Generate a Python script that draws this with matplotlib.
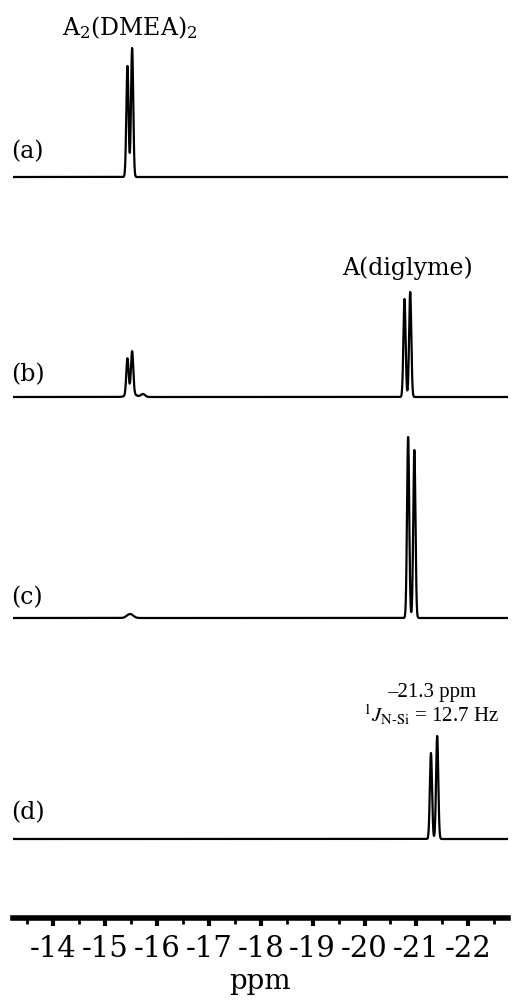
import numpy as np
import matplotlib
matplotlib.use("Agg")
import matplotlib.pyplot as plt

# 29Si NMR spectra (a)-(d): peak positions (ppm), heights (arb.), widths (ppm)
trace_names = ["(a)", "(b)", "(c)", "(d)"]
trace_offsets = [741, 521, 300, 79]

peaks_a_ppm = [-15.43, -15.52]
peaks_a_height = [111, 129]
peaks_a_width = [0.021, 0.021]

peaks_b_ppm = [-15.43, -15.52, -15.50, -15.73, -20.77, -20.88]
peaks_b_height = [36, 42, 4, 3, 98, 105]
peaks_b_width = [0.022, 0.022, 0.08, 0.04, 0.021, 0.021]

peaks_c_ppm = [-15.48, -20.84, -20.96]
peaks_c_height = [4, 181, 168]
peaks_c_width = [0.06, 0.021, 0.021]

peaks_d_ppm = [-21.28, -21.40]
peaks_d_height = [86, 103]
peaks_d_width = [0.021, 0.021]

peak_sets = [
    (peaks_a_ppm, peaks_a_height, peaks_a_width),
    (peaks_b_ppm, peaks_b_height, peaks_b_width),
    (peaks_c_ppm, peaks_c_height, peaks_c_width),
    (peaks_d_ppm, peaks_d_height, peaks_d_width),
]

tick_values = [-14, -15, -16, -17, -18, -19, -20, -21, -22]

ppm = np.linspace(-13.22, -22.77, 10000)


def line_shape(x, x0, h, w):
    return h * np.exp(-0.5 * ((x - x0) / w) ** 2)


fig = plt.figure(figsize=(5.13, 10.02), dpi=100)
ax = fig.add_axes([13 / 513, 84 / 1002, 495 / 513, 918 / 1002])

for off, (pos, hts, wds) in zip(trace_offsets, peak_sets):
    y = np.zeros_like(ppm)
    for p, h, w in zip(pos, hts, wds):
        y += line_shape(ppm, p, h, w)
    ax.plot(ppm, y + off, color="black", lw=1.6)

ax.set_xlim(-13.224, -22.765)
ax.set_ylim(0, 918)

for s in ["top", "left", "right"]:
    ax.spines[s].set_visible(False)
ax.spines["bottom"].set_linewidth(4)
ax.set_yticks([])
ax.set_xticks(tick_values)
ax.set_xticklabels([str(t) for t in tick_values])
ax.set_xticks(np.arange(-13.5, -22.6, -1.0), minor=True)
ax.tick_params(axis="x", which="major", length=6, width=3, pad=6,
               labelsize=21, direction="out")
ax.tick_params(axis="x", which="minor", length=4.5, width=2, direction="out")
for lab in ax.get_xticklabels():
    lab.set_fontfamily("DejaVu Serif")
ax.set_xlabel("ppm", fontsize=20, family="DejaVu Serif", labelpad=4)

# spectrum labels
label_y = [152, 375, 598, 813]
for name, yy in zip(trace_names, label_y):
    fig.text(11 / 513, 1 - yy / 1002, name, fontsize=17, family="DejaVu Serif",
             ha="left", va="center")

# compound labels
ax.text(-15.47, 918 - 28, r"A$_2$(DMEA)$_2$", fontsize=17, family="DejaVu Serif",
        math_fontfamily="dejavuserif", ha="center", va="center")
ax.text(-20.82, 918 - 268, "A(diglyme)", fontsize=17, family="DejaVu Serif",
        ha="center", va="center")
ax.text(-21.3, 918 - 693, "\u201321.3 ppm", fontsize=15, family="Liberation Serif",
        ha="center", va="center")
ax.text(-21.28, 918 - 715, r"$^{1}J_{\mathrm{N\text{-}Si}}$ = 12.7 Hz",
        fontsize=15, family="Liberation Serif", math_fontfamily="stix",
        ha="center", va="center")

fig.savefig("out.png", dpi=100)
